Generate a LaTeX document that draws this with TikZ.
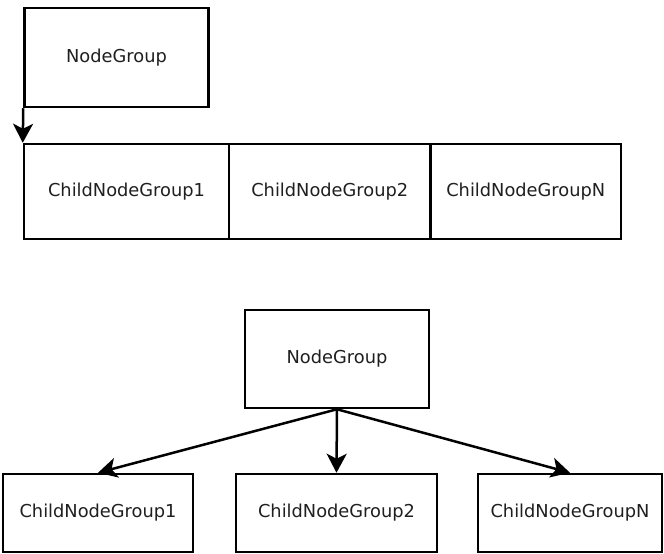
\documentclass[tikz,border=0pt]{standalone}
\usepackage{fontspec}
\setmainfont{DejaVu Sans}
\usetikzlibrary{arrows.meta}
\begin{document}
\begin{tikzpicture}[x=1pt,y=-1pt,
  box/.style={draw=black,line width=2.5pt,rectangle,inner sep=0pt,
    font=\fontsize{17.8}{20}\selectfont,text=black!88},
  arr/.style={line width=2.5pt,-{Stealth[length=19pt,width=20pt,inset=5pt]}}]
\useasboundingbox (0,0) rectangle (664,554);

% upper sketch: group with its children laid out in one strip
\node[box,minimum width=184pt,minimum height=99pt] (ng1) at (116.5,57.5) {NodeGroup};
\node[box,minimum width=205pt,minimum height=95pt] (c1) at (126.5,191.5) {ChildNodeGroup1};
\node[box,minimum width=201.5pt,minimum height=95pt] (c2) at (329.75,191.5) {ChildNodeGroup2};
\node[box,minimum width=190.5pt,minimum height=95pt] (c3) at (525.75,191.5) {ChildNodeGroupN};
\draw[arr] (ng1.south west) -- (c1.north west);

% lower sketch: group as a tree over its children
\node[box,minimum width=184pt,minimum height=98pt] (ng2) at (337,359) {NodeGroup};
\node[box,minimum width=190pt,minimum height=78pt] (b1) at (98,513) {ChildNodeGroup1};
\node[box,minimum width=201pt,minimum height=78pt] (b2) at (336.5,513) {ChildNodeGroup2};
\node[box,minimum width=184pt,minimum height=78pt] (b3) at (570,513) {ChildNodeGroupN};
\draw[arr] (ng2.south) -- (b1.north);
\draw[arr] (ng2.south) -- (b2.north);
\draw[arr] (ng2.south) -- (b3.north);
\end{tikzpicture}
\end{document}
